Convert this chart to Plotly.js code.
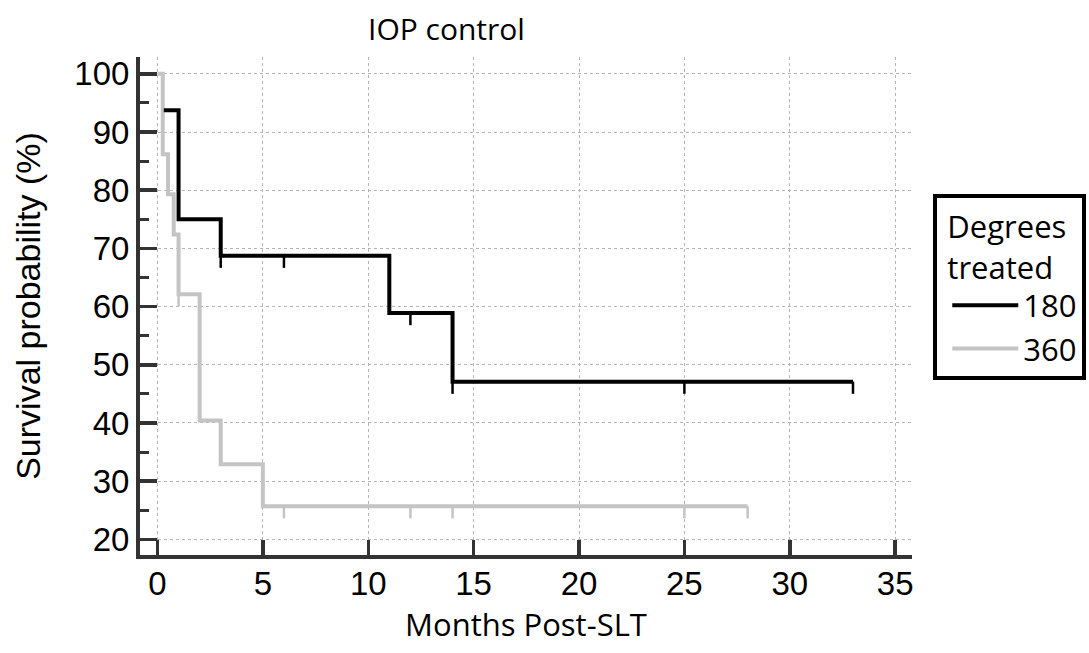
<!DOCTYPE html>
<html>
<head>
<meta charset="utf-8">
<script src="https://cdn.plot.ly/plotly-3.0.1.min.js"></script>
<style>html,body{margin:0;padding:0;background:#fff;}#chart{width:1089px;height:653px;}</style>
</head>
<body>
<div id="chart"></div>
<script>
// Kaplan-Meier step points (time in months, survival %)
var times180 = [0.3, 1, 3, 11, 14, 33];
var surv180  = [93.75, 75, 68.75, 58.9, 47.1, 47.1];
var censor180 = [3, 6, 12, 14, 25, 33];

var times360 = [0, 0.25, 0.5, 0.77, 1, 2, 3, 5, 28];
var surv360  = [100, 86.2, 79.3, 72.4, 62.1, 40.4, 32.9, 25.7, 25.7];
var censor360 = [1, 6, 12, 14, 25, 28];

var groupNames = ['180', '360'];
var xTicks = [0, 5, 10, 15, 20, 25, 30, 35];
var yTicks = [20, 30, 40, 50, 60, 70, 80, 90, 100];

function levelAt(ts, ss, t) {
  var v = ss[0];
  for (var i = 0; i < ts.length; i++) { if (ts[i] <= t) v = ss[i]; }
  return v;
}
function censorSegs(ts, ss, cs, len) {
  var x = [], y = [];
  cs.forEach(function (t) {
    var lv = levelAt(ts, ss, t);
    x.push(t, t, null); y.push(lv, lv - len, null);
  });
  return {x: x, y: y};
}
var TL = 2.1;
var c180 = censorSegs(times180, surv180, censor180, TL);
var c360 = censorSegs(times360, surv360, censor360, TL);

var black = '#000000', grey = '#c4c4c4';
var traces = [
  {x: c360.x, y: c360.y, mode: 'lines', line: {color: grey, width: 2.5}, showlegend: false, hoverinfo: 'skip'},
  {x: times360, y: surv360, mode: 'lines', line: {shape: 'hv', color: grey, width: 4}, name: groupNames[1], legendrank: 2},
  {x: c180.x, y: c180.y, mode: 'lines', line: {color: black, width: 2.5}, showlegend: false, hoverinfo: 'skip'},
  {x: times180, y: surv180, mode: 'lines', line: {shape: 'hv', color: black, width: 4}, name: groupNames[0], legendrank: 1}
];

var axisColor = '#333333';
var layout = {
  width: 1089, height: 653,
  margin: {l: 140, r: 177, t: 57, b: 98},
  paper_bgcolor: '#fff', plot_bgcolor: '#fff',
  title: {text: 'IOP control', font: {family: 'Open Sans', size: 30, color: '#000'},
          x: 0.41, xref: 'container', xanchor: 'center', y: 0.955, yref: 'container', yanchor: 'middle'},
  xaxis: {
    range: [-0.83, 35.8], tickvals: xTicks, ticktext: xTicks.map(String),
    showline: true, linecolor: axisColor, linewidth: 4,
    ticks: 'inside', ticklen: 15, tickwidth: 3.5, tickcolor: axisColor,
    showgrid: true, gridcolor: '#b5b5b5', gridwidth: 1, griddash: '3px,3px',
    zeroline: false,
    tickfont: {family: 'Liberation Sans, Arial', size: 33, color: '#000'},
    ticklabelstandoff: -4,
    title: {text: 'Months Post-SLT', font: {family: 'Open Sans', size: 31, color: '#000'}, standoff: 15}
  },
  yaxis: {
    range: [17.3, 102.9], tickvals: yTicks, ticktext: yTicks.map(String),
    showline: true, linecolor: axisColor, linewidth: 4,
    ticks: 'inside', ticklen: 17, tickwidth: 3.5, tickcolor: axisColor,
    minor: {tickvals: [25, 35, 45, 55, 65, 75, 85, 95], ticks: 'inside', ticklen: 9, tickwidth: 3, tickcolor: axisColor, showgrid: false},
    showgrid: true, gridcolor: '#b5b5b5', gridwidth: 1, griddash: '3px,3px',
    zeroline: false,
    tickfont: {family: 'Liberation Sans, Arial', size: 33, color: '#000'},
    ticklabelstandoff: 0,
    title: {text: 'Survival probability (%)', font: {family: 'Liberation Sans, Arial', size: 34, color: '#000'}, standoff: 24}
  },
  showlegend: true,
  legend: {
    xref: 'container', yref: 'container', x: 0.857, y: 0.703, xanchor: 'left', yanchor: 'top',
    bordercolor: '#000', borderwidth: 4, bgcolor: '#fff',
    font: {family: 'Open Sans', size: 31, color: '#000'},
    title: {text: '\u00a0Degrees<br>\u00a0treated', font: {family: 'Open Sans', size: 31, color: '#000'}, side: 'top'},
    itemwidth: 66, indentation: 10, tracegroupgap: 0
  }
};

Plotly.newPlot('chart', traces, layout, {displayModeBar: false, staticPlot: true});
</script>
</body>
</html>
